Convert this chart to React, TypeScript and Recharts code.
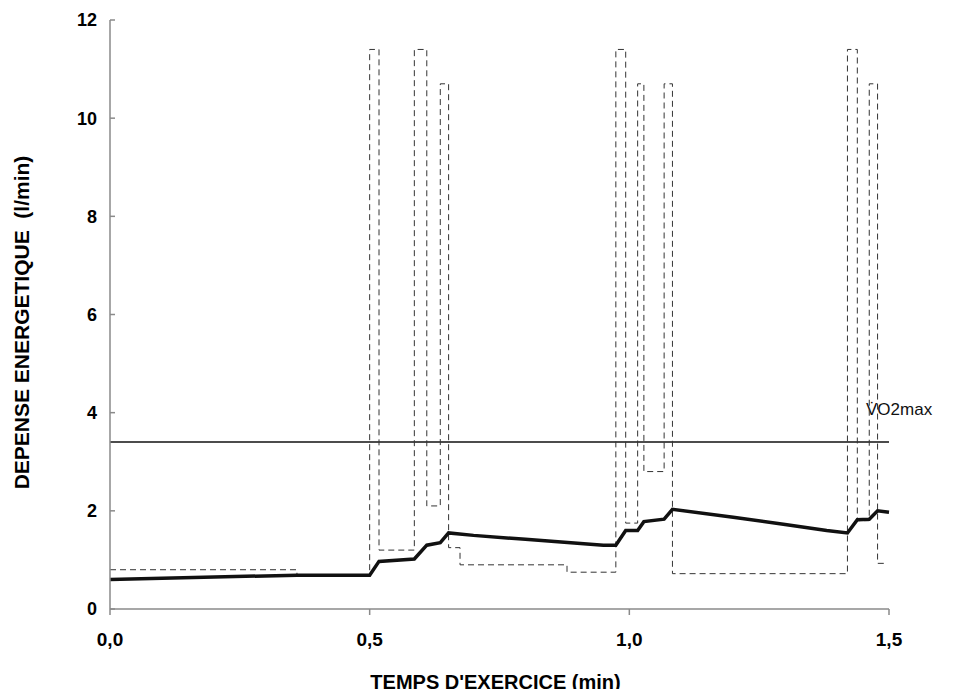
import { LineChart, Line, XAxis, YAxis, ReferenceLine } from "recharts";

// temps (min) / dépense (l/min) - courbe en tirets (demande instantanée, en escalier)
const dashT = [0, 0.36, 0.5, 0.518, 0.586, 0.61, 0.636, 0.652, 0.674, 0.88, 0.974, 0.993, 1.016, 1.028, 1.067, 1.083, 1.42, 1.439, 1.462, 1.478, 1.492];
const dashV = [0.8, 0.69, 11.4, 1.2, 11.4, 2.1, 10.7, 1.25, 0.9, 0.75, 11.4, 1.75, 10.7, 2.8, 10.7, 0.72, 11.4, 1.8, 10.7, 0.93, 0.93];

// courbe pleine (consommation)
const solidT = [0, 0.36, 0.5, 0.518, 0.586, 0.61, 0.636, 0.652, 0.7, 0.8, 0.9, 0.95, 0.974, 0.993, 1.016, 1.028, 1.067, 1.083, 1.2, 1.3, 1.38, 1.42, 1.439, 1.462, 1.478, 1.5];
const solidV = [0.6, 0.69, 0.69, 0.97, 1.02, 1.3, 1.35, 1.55, 1.5, 1.42, 1.34, 1.3, 1.3, 1.6, 1.6, 1.78, 1.83, 2.03, 1.87, 1.72, 1.6, 1.55, 1.82, 1.83, 2.0, 1.97];

const VO2MAX = 3.4;
const xTicks = [0, 0.5, 1, 1.5];
const yTicks = [0, 2, 4, 6, 8, 10, 12];

const FONT = "'Liberation Sans', Arial, sans-serif";
const AXIS = "#8a8a8a";

const dashData = dashT.map((t, i) => ({ t, v: dashV[i] }));
const solidData = solidT.map((t, i) => ({ t, v: solidV[i] }));

const fmt = (v: number) => v.toFixed(1).replace(".", ",");

export default function App() {
  return (
    <div style={{ margin: -8 }}>
      <LineChart width={958} height={697} margin={{ top: 20, right: 69, bottom: 28, left: 50 }}>
        <XAxis
          type="number"
          dataKey="t"
          domain={[0, 1.5]}
          ticks={xTicks}
          tickFormatter={fmt}
          height={60}
          tickSize={6}
          tickMargin={18}
          axisLine={{ stroke: AXIS, strokeWidth: 1.5 }}
          tickLine={{ stroke: AXIS, strokeWidth: 1.5 }}
          tick={{ fontSize: 19, fontWeight: "bold", fill: "#000", fontFamily: FONT }}
          label={(p: any) => (
            <text
              x={p.viewBox.x + p.viewBox.width / 2 - 4}
              y={p.viewBox.y + 80}
              textAnchor="middle"
              fontSize={20}
              fontWeight="bold"
              fontFamily={FONT}
              fill="#000"
            >
              TEMPS D'EXERCICE (min)
            </text>
          )}
        />
        <YAxis
          type="number"
          domain={[0, 12]}
          ticks={yTicks}
          width={60}
          tickSize={-5}
          tickMargin={18}
          axisLine={{ stroke: AXIS, strokeWidth: 1.5 }}
          tickLine={{ stroke: AXIS, strokeWidth: 1.5 }}
          tick={{ fontSize: 18, fontWeight: "bold", fill: "#000", fontFamily: FONT }}
          label={(p: any) => {
            const cy = p.viewBox.y + p.viewBox.height / 2 + 8;
            return (
              <text
                x={29}
                y={cy}
                transform={`rotate(-90, 29, ${cy})`}
                textAnchor="middle"
                fontSize={21}
                fontWeight="bold"
                fontFamily={FONT}
                fill="#000"
                style={{ whiteSpace: "pre" }}
              >
                {"DEPENSE ENERGETIQUE  (l/min)"}
              </text>
            );
          }}
        />
        <ReferenceLine
          y={VO2MAX}
          stroke="#111"
          strokeWidth={1.5}
          label={(p: any) => (
            <text
              x={p.viewBox.x + p.viewBox.width - 23}
              y={p.viewBox.y - 27}
              fontSize={17}
              fontFamily={FONT}
              fill="#111"
            >
              {"V\u0307O2max"}
            </text>
          )}
        />
        <Line
          data={dashData}
          dataKey="v"
          type="stepAfter"
          stroke="#333"
          strokeWidth={1}
          strokeDasharray="6 4"
          dot={false}
          isAnimationActive={false}
        />
        <Line
          data={solidData}
          dataKey="v"
          type="linear"
          stroke="#111"
          strokeWidth={3.5}
          dot={false}
          isAnimationActive={false}
        />
      </LineChart>
    </div>
  );
}
